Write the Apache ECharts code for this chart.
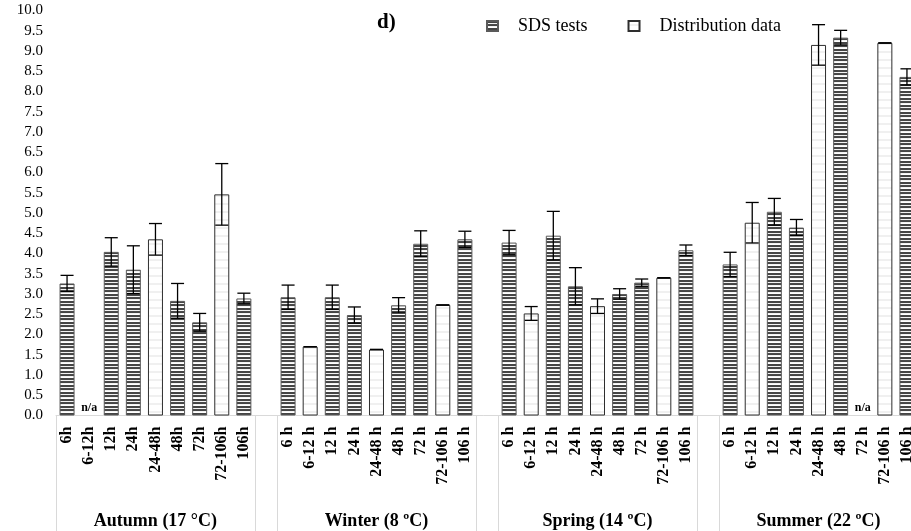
<!DOCTYPE html>
<html>
<head>
<meta charset="utf-8">
<script src="https://cdn.jsdelivr.net/npm/echarts@6/dist/echarts.min.js"></script>
<style>html,body{margin:0;padding:0;background:#fff}#c{width:911px;height:531px}</style>
</head>
<body>
<div id="c"></div>
<script>
// ---- data ----
const autumnTimes = ['6h','6-12h','12h','24h','24-48h','48h','72h','72-106h','106h'];
const seasonTimes = ['6 h','6-12 h','12 h','24 h','24-48 h','48 h','72 h','72-106 h','106 h'];
const seasons = ['Autumn (17 °C)','Winter (8 ºC)','Spring (14 ºC)','Summer (22 ºC)'];

const sdsAutumn = [3.26, null, 4.04, 3.60, null, 2.83, 2.30, null, 2.89];
const sdsWinter = [2.92, null, 2.92, 2.48, null, 2.72, 4.24, null, 4.35];
const sdsSpring = [4.27, null, 4.44, 3.19, null, 3.00, 3.28, null, 4.08];
const sdsSummer = [3.73, null, 5.03, 4.64, null, 9.33, 'n/a', null, 8.36];

const distAutumn = [null, 'n/a', null, null, 4.35, null, null, 5.46, null];
const distWinter = [null, 1.70, null, null, 1.63, null, null, 2.73, null];
const distSpring = [null, 2.52, null, null, 2.70, null, null, 3.40, null];
const distSummer = [null, 4.76, null, null, 9.15, null, null, 9.20, null];

const errAutumn = [0.20, null, 0.35, 0.59, 0.39, 0.43, 0.22, 0.76, 0.13];
const errWinter = [0.30, 0, 0.30, 0.20, 0, 0.19, 0.32, 0, 0.20];
const errSpring = [0.30, 0.17, 0.60, 0.46, 0.18, 0.13, 0.09, 0, 0.13];
const errSummer = [0.30, 0.50, 0.33, 0.20, 0.50, 0.18, null, 0, 0.20];

const yTicks = [0,0.5,1,1.5,2,2.5,3,3.5,4,4.5,5,5.5,6,6.5,7,7.5,8,8.5,9,9.5,10];

// ---- build ----
const categories = [...autumnTimes, '', ...seasonTimes, '', ...seasonTimes, '', ...seasonTimes];
const isGap = categories.map(c => c === '');
const sdsAll = [...sdsAutumn, null, ...sdsWinter, null, ...sdsSpring, null, ...sdsSummer];
const distAll = [...distAutumn, null, ...distWinter, null, ...distSpring, null, ...distSummer];
const errAll = [...errAutumn, null, ...errWinter, null, ...errSpring, null, ...errSummer];
const seasonAxis = categories.map(() => '');
seasons.forEach((s, g) => { seasonAxis[g * 10 + 4] = s; });

const FONT = '"Liberation Serif", "Times New Roman", serif';

function stripes(rows) {
  const c = document.createElement('canvas');
  c.width = 4; c.height = rows.length;
  const ctx = c.getContext('2d');
  rows.forEach((col, i) => { ctx.fillStyle = col; ctx.fillRect(0, i, 4, 1); });
  return c;
}
const sdsPattern = { image: stripes(['#454545','#454545','#f2f2f2','#4a4a4a','#454545','#f2f2f2','#ffffff']), repeat: 'repeat' };
const distPattern = { image: stripes(['#ffffff','#ffffff','#ffffff','#f0f0f0','#f0f0f0','#ffffff','#ffffff','#ffffff']), repeat: 'repeat' };

function toItems(arr) {
  return arr.map(v => {
    if (v === 'n/a') {
      return { value: 0, itemStyle: { borderWidth: 0 },
        label: { show: true, position: 'top', distance: 2, formatter: 'n/a',
          fontFamily: FONT, fontWeight: 'bold', fontSize: 12, color: '#000' } };
    }
    return v;
  });
}
const barTop = sdsAll.map((v, i) => typeof v === 'number' ? v : (typeof distAll[i] === 'number' ? distAll[i] : null));
const errData = [];
errAll.forEach((e, i) => { if (e !== null && barTop[i] !== null) errData.push([i, barTop[i] - e, barTop[i] + e]); });

const chart = echarts.init(document.getElementById('c'), null, { renderer: 'canvas' });
chart.setOption({
  animation: false,
  backgroundColor: '#fff',
  title: { text: 'd)', left: 372, top: 7,
    textStyle: { fontFamily: FONT, fontWeight: 'bold', fontSize: 21, color: '#000' } },
  legend: {
    left: 481, top: 12, itemWidth: 11, itemHeight: 10, itemGap: 40, icon: 'rect',
    data: ['SDS tests', 'Distribution data'],
    textStyle: { fontFamily: FONT, fontSize: 18, color: '#000', padding: [0, 0, 0, 15] }
  },
  grid: { left: 56, top: 10.5, width: 862, height: 405, containLabel: false, outerBoundsMode: 'none' },
  xAxis: [
    { type: 'category', data: categories, position: 'bottom',
      axisLine: { show: true, lineStyle: { color: '#d9d9d9', width: 1 } },
      axisTick: { show: false },
      axisLabel: { interval: 0, rotate: 90, margin: 11, fontFamily: FONT, fontWeight: 'bold', fontSize: 16, color: '#000' } },
    { type: 'category', data: seasonAxis, position: 'bottom', gridIndex: 0,
      axisLine: { show: false },
      axisTick: { show: true, length: 116, alignWithLabel: false,
        interval: (i) => i === 0 || isGap[i] || isGap[i - 1],
        lineStyle: { color: '#d9d9d9', width: 1 } },
      axisLabel: { interval: 0, margin: 97, fontFamily: FONT, fontWeight: 'bold', fontSize: 18, color: '#000' } }
  ],
  yAxis: { type: 'value', min: 0, max: 10, interval: 0.5,
    axisLine: { show: false }, axisTick: { show: false }, splitLine: { show: false },
    axisLabel: { margin: 13, fontFamily: FONT, fontSize: 15, color: '#000',
      formatter: v => yTicks.includes(v) ? v.toFixed(1) : '' } },
  series: [
    { name: 'SDS tests', type: 'bar', xAxisIndex: 0, barWidth: 15, barGap: '-100%',
      data: toItems(sdsAll),
      itemStyle: { color: sdsPattern, borderColor: '#5a5a5a', borderWidth: 1 } },
    { name: 'Distribution data', type: 'bar', xAxisIndex: 0, barWidth: 15, barGap: '-100%',
      data: toItems(distAll),
      itemStyle: { color: distPattern, borderColor: '#2e2e2e', borderWidth: 1 } },
    { name: 'err', type: 'custom', xAxisIndex: 0, z: 10, data: errData,
      renderItem: function (params, api) {
        const x = api.value(0);
        const lo = api.coord([x, api.value(1)]);
        const hi = api.coord([x, api.value(2)]);
        const w = 6.5;
        const st = { stroke: '#000', lineWidth: 1.3 };
        return { type: 'group', children: [
          { type: 'line', shape: { x1: lo[0], y1: lo[1], x2: hi[0], y2: hi[1] }, style: st },
          { type: 'line', shape: { x1: hi[0] - w, y1: hi[1], x2: hi[0] + w, y2: hi[1] }, style: st },
          { type: 'line', shape: { x1: lo[0] - w, y1: lo[1], x2: lo[0] + w, y2: lo[1] }, style: st }
        ] };
      } }
  ]
});
</script>
</body>
</html>
